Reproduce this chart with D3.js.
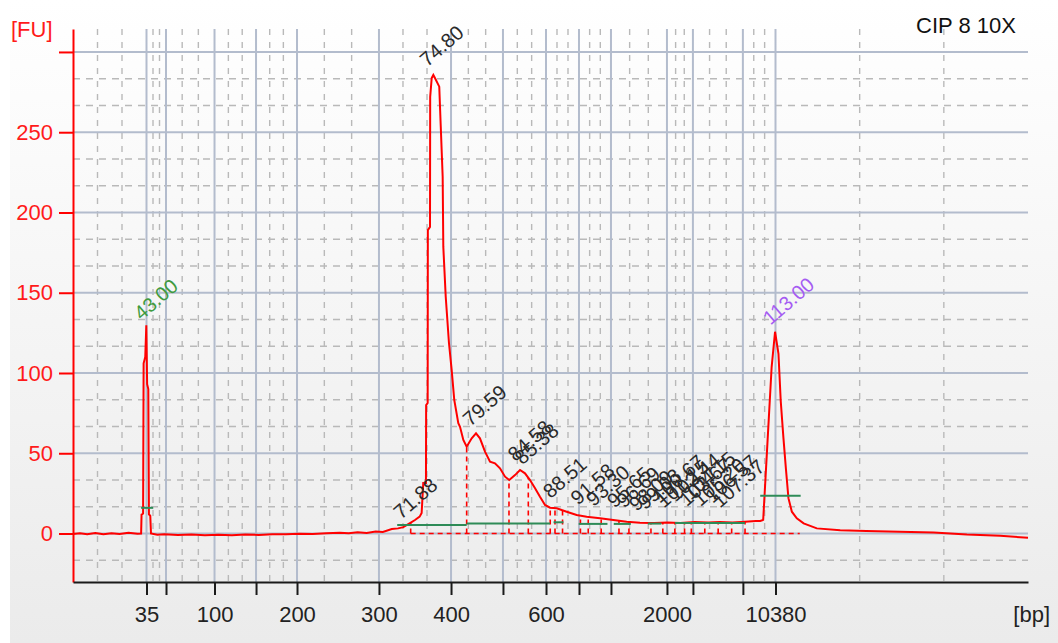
<!DOCTYPE html>
<html>
<head>
<meta charset="utf-8">
<title>CIP 8 10X</title>
<script src="https://cdnjs.cloudflare.com/ajax/libs/d3/7.8.5/d3.min.js"></script>
<style>
  html, body { margin: 0; padding: 0; background: #fff; }
  svg { display: block; font-family: "Liberation Sans", Arial, sans-serif; }
</style>
</head>
<body>
<div id="chart"></div>
<script>
(function() {
  "use strict";

  var SAMPLE_NAME = 'CIP 8 10X';

  // Ladder fragment sizes (bp) and the migration time (s) each one runs at
  var ladderBp   = [35, 50, 100, 150, 200, 300, 400, 500, 600, 700, 1000, 2000, 3000, 7000, 10380];
  var ladderTime = [43.00, 45.17, 50.57, 55.19, 59.75, 68.87, 76.89, 82.67, 87.46, 91.13, 94.69, 100.92, 103.81, 109.37, 113.00];
  // Only these sizes get a text under their tick, the rest would overlap
  var labelledBp = [35, 100, 200, 300, 400, 600, 2000, 10380];

  var timeRange = [34.82, 141.1];
  var fuRange = [-30.2, 314.3];
  var fuTicks = [0, 50, 100, 150, 200, 250, 300];
  var fuLabels = [0, 50, 100, 150, 200, 250];

  // Electropherogram trace: [time (s), fluorescence (FU)]
  var trace = [
    [34.82, -0.3], [35.6, 0.2], [36.4, -0.4], [37.3, 0.3], [38.2, -0.5], [39.1, 0.2],
    [40.0, -0.3], [41.0, 0.4], [42.0, -0.2], [42.40, 0.0],
    [42.45, 11.8], [42.62, 12.5], [42.68, 106], [42.86, 110], [42.98, 129.7], [43.07, 93],
    [43.20, 90], [43.27, 12], [43.42, 11], [43.50, 0.0],
    [44.2, -0.8], [45.0, -0.5], [46.5, -0.9], [48.0, -0.6], [49.5, -1.0], [51.0, -0.7],
    [52.5, -1.1], [54.0, -0.6], [55.5, -0.9], [57.0, -0.4], [58.5, -0.5], [60.0, -0.2],
    [61.5, -0.3], [63.0, 0.1], [64.5, 0.5], [65.5, 0.2], [66.5, 0.8], [67.5, 0.4],
    [68.5, 1.2], [69.3, 1.0], [70.3, 2.8], [71.0, 3.2], [71.58, 4.0], [72.32, 6.5],
    [72.88, 8.4], [73.40, 10.5], [73.62, 12.8], [73.80, 31.5], [74.10, 31.5], [74.12, 80],
    [74.29, 81.3], [74.31, 189], [74.55, 191], [74.57, 272], [74.74, 283.8], [74.92, 285.7],
    [75.10, 283.8], [75.58, 278.4], [75.74, 254.5], [75.96, 222.3], [76.03, 178.7], [76.30, 147.5],
    [76.66, 118.7], [76.96, 101.9], [77.25, 83.2], [77.70, 68.7], [77.89, 66.5], [78.26, 58.3],
    [78.63, 54.1], [79.19, 59.3], [79.67, 62.4], [80.11, 59.3], [80.67, 51.0], [81.23, 44.7],
    [81.78, 43.7], [82.34, 40.6], [82.90, 35.4], [83.37, 33.3], [84.01, 36.4], [84.57, 39.6],
    [85.12, 37.5], [85.68, 33.3], [86.24, 28.2], [86.79, 22.9], [87.35, 17.8], [87.91, 16.1],
    [88.65, 15.7], [89.76, 13.6], [90.87, 11.5], [91.99, 10.5], [93.47, 9.5], [94.95, 8.4],
    [96.44, 7.4], [97.92, 6.7], [99.5, 6.5], [101.0, 6.9], [102.4, 6.6], [104.0, 7.1],
    [105.5, 6.8], [106.8, 7.2], [108.2, 6.9], [109.6, 7.4], [110.8, 7.8], [111.3, 7.8],
    [111.63, 8.5], [112.01, 47], [112.57, 103.7], [112.95, 125.7], [113.33, 112], [113.58, 82.7],
    [113.88, 59.7], [114.15, 40.9], [114.44, 22], [114.82, 13.6], [115.37, 9.5], [116.13, 6.3],
    [117.6, 3.2], [120.2, 2.1], [123.1, 1.5], [126.8, 1.1], [130.6, 0.7], [134.3, -0.6],
    [138.0, -1.4], [141.1, -2.7]
  ];

  // Called peaks: migration time, apex height (FU) and kind (marker or sample)
  var peaks = [
    { time: 43.00, height: 128, label: '43.00', kind: 'lower' },
    { time: 71.88, height: 4, label: '71.88', kind: 'peak' },
    { time: 74.80, height: 286, label: '74.80', kind: 'peak' },
    { time: 79.59, height: 62, label: '79.59', kind: 'peak' },
    { time: 84.58, height: 40, label: '84.58', kind: 'peak' },
    { time: 85.38, height: 38, label: '85.38', kind: 'peak' },
    { time: 88.51, height: 17, label: '88.51', kind: 'peak' },
    { time: 91.58, height: 13, label: '91.58', kind: 'peak' },
    { time: 93.30, height: 12, label: '93.30', kind: 'peak' },
    { time: 95.65, height: 11, label: '95.65', kind: 'peak' },
    { time: 96.69, height: 11, label: '96.69', kind: 'peak' },
    { time: 98.09, height: 9, label: '98.09', kind: 'peak' },
    { time: 99.03, height: 10, label: '99.03', kind: 'peak' },
    { time: 100.67, height: 14, label: '100.67', kind: 'peak' },
    { time: 101.15, height: 11, label: '101.15', kind: 'peak' },
    { time: 102.44, height: 15, label: '102.44', kind: 'peak' },
    { time: 103.67, height: 12, label: '103.67', kind: 'peak' },
    { time: 104.15, height: 16, label: '104.15', kind: 'peak' },
    { time: 105.20, height: 12, label: '105.20', kind: 'peak' },
    { time: 106.57, height: 14, label: '106.57', kind: 'peak' },
    { time: 107.37, height: 11, label: '107.37', kind: 'peak' },
    { time: 113.00, height: 125, label: '113.00', kind: 'upper' }
  ];

  // Peak-region borders (s), drawn as dashed drops down to the baseline
  var regionBorders = [72.40, 78.63, 83.34, 85.49, 87.93, 88.46, 89.30, 91.29, 92.16, 93.60,
    95.58, 96.69, 99.14, 100.46, 101.80, 102.88, 103.63, 105.13, 106.62, 108.12, 109.61];

  // Local baselines of the integrated regions: [start (s), end (s), level (FU)]
  var localBaselines = [
    [42.40, 43.75, 16], [70.9, 78.63, 5.3], [78.63, 87.9, 6.3], [88.3, 89.4, 7.0],
    [91.1, 94.3, 6.0], [95.0, 96.9, 6.0], [98.8, 100.3, 6.2], [101.8, 109.6, 6.5],
    [111.3, 115.8, 23.5]
  ];

  // Span of the dashed zero line under the sample peaks (s)
  var zeroLineSpan = [72.4, 115.7];

  var WIDTH = 1058;
  var HEIGHT = 643;
  var PLOT = { left: 73, right: 1028, top: 29, bottom: 582 };

  var LABEL_COLORS = { lower: '#3f9b3f', upper: '#a55cf2', peak: '#2a2a2a' };

  var x = d3.scaleLinear().domain(timeRange).range([PLOT.left, PLOT.right]);
  var y = d3.scaleLinear().domain(fuRange).range([PLOT.bottom, PLOT.top]);
  var bisectTime = d3.bisector(function(d) { return d[0]; }).left;

  var svg = d3.select('#chart')
      .append('svg')
      .attr('width', WIDTH)
      .attr('height', HEIGHT);

  drawBackground(svg);
  drawGrid(svg);
  drawIntegration(svg);
  drawTrace(svg);
  drawLocalBaselines(svg);
  drawAxes(svg);
  drawPeakLabels(svg);
  drawTitles(svg);

  /**
   * Soft grey gradient behind the whole chart, like the instrument export.
   */
  function drawBackground(svg) {
    var grad = svg.append('defs')
        .append('linearGradient')
        .attr('id', 'bg')
        .attr('x1', 0).attr('y1', 0)
        .attr('x2', 0).attr('y2', 1);
    grad.append('stop').attr('offset', '0%').attr('stop-color', '#ffffff');
    grad.append('stop').attr('offset', '100%').attr('stop-color', '#ebebeb');

    svg.append('rect')
      .attr('width', WIDTH)
      .attr('height', HEIGHT)
      .attr('fill', '#ffffff');
    svg.append('rect')
      .attr('x', 10)
      .attr('width', WIDTH - 10)
      .attr('height', HEIGHT)
      .attr('fill', 'url(#bg)');
  }

  /**
   * Splits every gap between neighbouring values into thirds and returns the
   * two inner points of each gap.
   */
  function thirds(values) {
    var out = [];
    for (var i = 0; i < values.length - 1; i++) {
      var step = (values[i + 1] - values[i]) / 3;
      out.push(values[i] + step, values[i] + 2 * step);
    }
    return out;
  }

  /**
   * Solid grid on ladder sizes and every 50 FU, dashed grid at thirds.
   */
  function drawGrid(svg) {
    var grid = svg.append('g').attr('class', 'grid');

    var vMinor = thirds([timeRange[0]].concat(ladderTime, [timeRange[1]]));
    var hMinor = thirds([-50].concat(fuTicks)).filter(function(d) {
      return d > fuRange[0] && d < fuRange[1];
    });

    grid.selectAll('line.v-minor')
      .data(vMinor)
      .enter().append('line')
      .attr('class', 'v-minor')
      .attr('x1', function(d) { return x(d); })
      .attr('x2', function(d) { return x(d); })
      .attr('y1', PLOT.top)
      .attr('y2', PLOT.bottom)
      .attr('stroke', '#b9b9b9')
      .attr('stroke-width', 1.4)
      .attr('stroke-dasharray', '6,7');

    grid.selectAll('line.h-minor')
      .data(hMinor)
      .enter().append('line')
      .attr('class', 'h-minor')
      .attr('x1', PLOT.left)
      .attr('x2', PLOT.right)
      .attr('y1', function(d) { return y(d); })
      .attr('y2', function(d) { return y(d); })
      .attr('stroke', '#b9b9b9')
      .attr('stroke-width', 1.4)
      .attr('stroke-dasharray', '7,6');

    grid.selectAll('line.v-major')
      .data(ladderTime)
      .enter().append('line')
      .attr('class', 'v-major')
      .attr('x1', function(d) { return x(d); })
      .attr('x2', function(d) { return x(d); })
      .attr('y1', PLOT.top)
      .attr('y2', PLOT.bottom)
      .attr('stroke', '#b3bccd')
      .attr('stroke-width', 2);

    grid.selectAll('line.h-major')
      .data(fuTicks)
      .enter().append('line')
      .attr('class', 'h-major')
      .attr('x1', PLOT.left)
      .attr('x2', PLOT.right)
      .attr('y1', function(d) { return y(d); })
      .attr('y2', function(d) { return y(d); })
      .attr('stroke', '#b3bccd')
      .attr('stroke-width', 2);
  }

  /**
   * Linear read-out of the trace at a given time, used for the drop lines.
   */
  function traceAt(t) {
    var i = bisectTime(trace, t);
    if (i <= 0) return trace[0][1];
    if (i >= trace.length) return trace[trace.length - 1][1];
    var a = trace[i - 1], b = trace[i];
    return a[1] + (b[1] - a[1]) * (t - a[0]) / (b[0] - a[0]);
  }

  /**
   * Dashed red zero line and the region borders dropping onto it.
   */
  function drawIntegration(svg) {
    var g = svg.append('g').attr('class', 'integration');

    g.append('line')
      .attr('x1', x(zeroLineSpan[0]))
      .attr('x2', x(zeroLineSpan[1]))
      .attr('y1', y(0))
      .attr('y2', y(0))
      .attr('stroke', '#ff0000')
      .attr('stroke-width', 1.6)
      .attr('stroke-dasharray', '5,4');

    g.selectAll('line.drop')
      .data(regionBorders)
      .enter().append('line')
      .attr('class', 'drop')
      .attr('x1', function(d) { return x(d); })
      .attr('x2', function(d) { return x(d); })
      .attr('y1', y(0))
      .attr('y2', function(d) { return y(traceAt(d)); })
      .attr('stroke', '#ff0000')
      .attr('stroke-width', 1.6)
      .attr('stroke-dasharray', '5,4');
  }

  function drawTrace(svg) {
    var line = d3.line()
        .x(function(d) { return x(d[0]); })
        .y(function(d) { return y(d[1]); });

    svg.append('path')
      .datum(trace)
      .attr('fill', 'none')
      .attr('stroke', '#ff0000')
      .attr('stroke-width', 2)
      .attr('stroke-linejoin', 'miter')
      .attr('d', line);
  }

  function drawLocalBaselines(svg) {
    svg.append('g').attr('class', 'local-baselines')
      .selectAll('line')
      .data(localBaselines)
      .enter().append('line')
      .attr('x1', function(d) { return x(d[0]); })
      .attr('x2', function(d) { return x(d[1]); })
      .attr('y1', function(d) { return y(d[2]); })
      .attr('y2', function(d) { return y(d[2]); })
      .attr('stroke', '#2e8b57')
      .attr('stroke-width', 2);
  }

  function drawAxes(svg) {
    var yAxis = d3.axisLeft(y)
        .tickValues(fuTicks)
        .tickSize(14)
        .tickSizeOuter(0)
        .tickPadding(6)
        .tickFormat(function(d) { return fuLabels.indexOf(d) >= 0 ? d : ''; });

    var gy = svg.append('g')
        .attr('transform', 'translate(' + PLOT.left + ',0)')
        .attr('color', '#ff0000')
        .call(yAxis);
    gy.selectAll('path, line').attr('stroke-width', 2);
    gy.selectAll('text')
      .attr('font-size', 22)
      .attr('font-family', '"Liberation Sans", Arial, sans-serif')
      .attr('fill', '#ff1a1a');

    var xAxis = d3.axisBottom(x)
        .tickValues(ladderTime)
        .tickSize(13)
        .tickSizeOuter(0)
        .tickPadding(11)
        .tickFormat(function(d, i) {
          return labelledBp.indexOf(ladderBp[i]) >= 0 ? ladderBp[i] : '';
        });

    var gx = svg.append('g')
        .attr('transform', 'translate(0,' + PLOT.bottom + ')')
        .attr('color', '#1a1a1a')
        .call(xAxis);
    gx.selectAll('path, line').attr('stroke-width', 2);
    gx.selectAll('text')
      .attr('font-size', 22)
      .attr('font-family', '"Liberation Sans", Arial, sans-serif')
      .attr('fill', '#222');
  }

  /**
   * Migration time of each called peak, written slanted from the apex.
   */
  function drawPeakLabels(svg) {
    svg.append('g').attr('class', 'peak-labels')
      .selectAll('text')
      .data(peaks)
      .enter().append('text')
      .attr('transform', function(d) {
        return 'translate(' + (x(d.time) - 5) + ',' + (y(d.height) - 7) + ') rotate(-41)';
      })
      .attr('font-size', 20)
      .attr('fill', function(d) { return LABEL_COLORS[d.kind]; })
      .text(function(d) { return d.label; });
  }

  function drawTitles(svg) {
    svg.append('text')
      .attr('x', 11)
      .attr('y', 37)
      .attr('font-size', 22)
      .attr('fill', '#ff1a1a')
      .text('[FU]');

    svg.append('text')
      .attr('x', 1050)
      .attr('y', 622)
      .attr('text-anchor', 'end')
      .attr('font-size', 22)
      .attr('fill', '#222')
      .text('[bp]');

    svg.append('text')
      .attr('x', 1016)
      .attr('y', 33)
      .attr('text-anchor', 'end')
      .attr('font-size', 22)
      .attr('fill', '#111')
      .text(SAMPLE_NAME);
  }
})();
</script>
</body>
</html>
